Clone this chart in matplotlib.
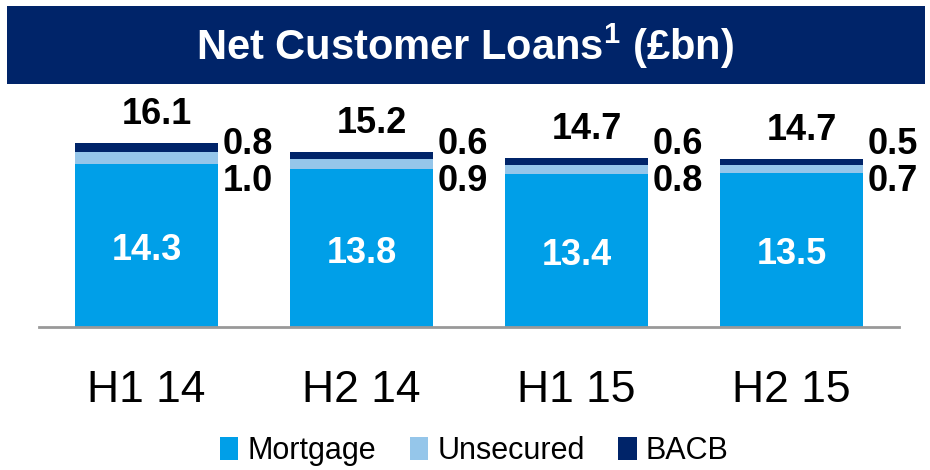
import matplotlib
matplotlib.use('Agg')
import matplotlib.pyplot as plt
from matplotlib import font_manager
from matplotlib.patches import Rectangle
import numpy as np

# Data
periods = ['H1 14', 'H2 14', 'H1 15', 'H2 15']
mortgage = [14.3, 13.8, 13.4, 13.5]
unsecured = [1.0, 0.9, 0.8, 0.7]
bacb = [0.8, 0.6, 0.6, 0.5]
totals = [16.1, 15.2, 14.7, 14.7]

c_mort = '#009FE8'
c_unsec = '#95C6EA'
c_bacb = '#002469'

names = {f.name for f in font_manager.fontManager.ttflist}
font = 'Liberation Sans Narrow' if 'Liberation Sans Narrow' in names else 'Liberation Sans'
plt.rcParams['font.family'] = [font, 'DejaVu Sans']

W, H = 930, 470
fig = plt.figure(figsize=(W / 100, H / 100), dpi=100)

# title bar
fig.add_artist(Rectangle((7 / W, 1 - 84 / H), 918 / W, 78 / H, transform=fig.transFigure,
                         facecolor=c_bacb, edgecolor='none'))
fig.text(0.5, 1 - 46 / H, 'Net Customer Loans$^{\\mathregular{1}}$ (£bn)', color='white',
         fontsize=30, fontweight='bold', ha='center', va='center')

# axes: baseline at y=327 px, x from 39 to 899 px
ax = fig.add_axes([39 / W, 1 - 327 / H, 860 / W, 227 / H])
x = np.arange(len(periods))
bw = 0.665
ax.bar(x, mortgage, bw, color=c_mort, label='Mortgage')
bot2 = np.array(mortgage)
ax.bar(x, unsecured, bw, bottom=bot2, color=c_unsec, label='Unsecured')
bot3 = bot2 + np.array(unsecured)
ax.bar(x, bacb, bw, bottom=bot3, color=c_bacb, label='BACB')
tops = bot3 + np.array(bacb)

ax.set_xlim(-0.5, 3.5)
ax.set_ylim(0, 227 / 11.43)

for i in range(len(periods)):
    ax.text(x[i], mortgage[i] / 2 - 0.45, f'{mortgage[i]:.1f}', color='white', fontsize=26,
            fontweight='bold', ha='center', va='center')
    ax.annotate(f'{totals[i]:.1f}', (x[i] + 0.05, tops[i]), xytext=(0, 8), textcoords='offset points',
                fontsize=26, fontweight='bold', ha='center', va='bottom')
    ax.text(x[i] + bw / 2 + 0.02, 16.0, f'{bacb[i]:.1f}', fontsize=26, fontweight='bold',
            ha='left', va='center')
    ax.text(x[i] + bw / 2 + 0.02, 12.75, f'{unsecured[i]:.1f}', fontsize=26, fontweight='bold',
            ha='left', va='center')

for s in ['top', 'right', 'left']:
    ax.spines[s].set_visible(False)
ax.spines['bottom'].set_color('#999999')
ax.spines['bottom'].set_linewidth(2)
ax.set_yticks([])
ax.set_xticks(x)
ax.set_xticklabels(periods, fontsize=32)
ax.tick_params(axis='x', length=0, pad=31)

leg = fig.legend(loc='center', bbox_to_anchor=(0.51, 1 - 451 / H), ncol=3, frameon=False,
                 fontsize=22, handlelength=0.6, handleheight=0.8, handletextpad=0.3,
                 columnspacing=1.1, borderaxespad=0)

plt.savefig('out.png', dpi=100)
